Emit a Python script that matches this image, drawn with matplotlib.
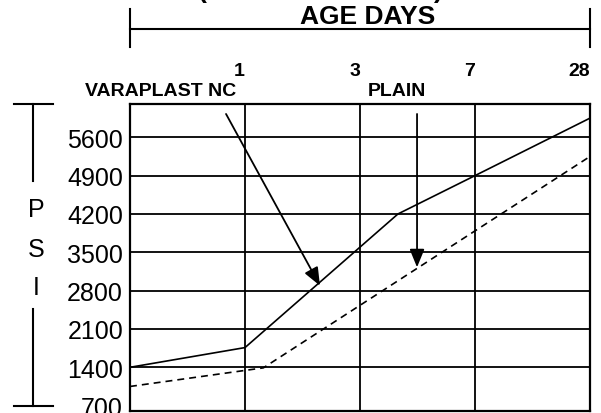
import matplotlib
matplotlib.use("Agg")
import matplotlib.pyplot as plt
from matplotlib import transforms
from matplotlib.lines import Line2D

plt.rcParams['font.family'] = ['Liberation Sans', 'DejaVu Sans']
plt.rcParams['lines.scale_dashes'] = False

#######################################
# DATA
#######################################

# x positions on the category axis (0 = start, 1..4 = age columns)
day_pos = [1, 2, 3, 4]
day_labels = ['1', '3', '7', '28']

psi_ticks = [700, 1400, 2100, 2800, 3500, 4200, 4900, 5600]

# VARAPLAST NC (solid)
vara_x = [0, 1, 2.33, 3, 4]
vara_y = [1400, 1760, 4200, 4900, 5950]

# PLAIN (dashed)
plain_x = [0, 1.16, 4]
plain_y = [1050, 1390, 5250]

# pointer arrows: (text end, tip) in data units
vara_arrow = [(0.835, 6026), (1.652, 2890)]
plain_arrow = [(2.496, 6026), (2.496, 3226)]

W, H = 601, 414


def px(x, y):
    """pixel (from top-left) -> figure fraction"""
    return x / W, 1 - y / H


#######################################
# FIGURE
#######################################

fig = plt.figure(figsize=(W / 100, H / 100), dpi=100)
ax = fig.add_axes([130 / W, 2 / H, 460 / W, 307 / H])

ax.set_xlim(0, 4)
ax.set_ylim(602, 6208)

# grid
ax.vlines(day_pos[:-1], 602, 6208, color='black', lw=1.3, zorder=1)
ax.hlines(psi_ticks[1:], 0, 4, color='black', lw=1.3, zorder=1)

# curves
ax.plot(vara_x, vara_y, color='black', lw=1.2, zorder=3)
ax.plot(plain_x, plain_y, color='black', lw=1.2, dashes=(5, 3.6), zorder=3)

# arrows
for (x0, y0), (x1, y1) in [vara_arrow, plain_arrow]:
    ax.annotate('', xy=(x1, y1), xytext=(x0, y0),
                arrowprops=dict(arrowstyle='-|>,head_length=1.1,head_width=0.45',
                                color='black', lw=1.3, shrinkA=0, shrinkB=0,
                                mutation_scale=10))

for s in ax.spines.values():
    s.set_linewidth(1.6)

ax.set_xticks([])
ax.set_yticks(psi_ticks)
ax.set_yticklabels([str(v) for v in psi_ticks], fontsize=18)
ax.tick_params(axis='y', length=0, pad=5)

# day labels above the columns
tr = transforms.blended_transform_factory(ax.transData, fig.transFigure)
for p, lab in zip(day_pos, day_labels):
    ax.text(p, px(0, 71)[1], lab, transform=tr, ha='right', va='center',
            fontsize=14, fontweight='bold')

# series names
fig.text(*px(161, 92), 'VARAPLAST NC', ha='center', va='center',
         fontsize=14, fontweight='bold')
fig.text(*px(397, 92), 'PLAIN', ha='center', va='center',
         fontsize=14, fontweight='bold')

# AGE DAYS bracket
fig.text(*px(368, 17), 'AGE DAYS', ha='center', va='center',
         fontsize=19, fontweight='bold')
fig.add_artist(Line2D(*zip(px(130, 29.5), px(590, 29.5)), color='black', lw=1.5))
for xx in (130, 590):
    fig.add_artist(Line2D(*zip(px(xx, 10), px(xx, 48)), color='black', lw=1.5))
# bits of the cropped line above
fig.text(*px(202, -2), '(', ha='center', va='baseline', fontsize=19, fontweight='bold')
fig.text(*px(438, -2), ')', ha='center', va='baseline', fontsize=19, fontweight='bold')

# PSI bracket on the left
for letter, yy in zip(['P', 'S', 'I'], [210, 250, 288]):
    fig.text(*px(36, yy), letter, ha='center', va='center', fontsize=18)
fig.add_artist(Line2D(*zip(px(33, 105), px(33, 182)), color='black', lw=1.5))
fig.add_artist(Line2D(*zip(px(33, 310), px(33, 406.7)), color='black', lw=1.5))
fig.add_artist(Line2D(*zip(px(14, 105), px(53, 105)), color='black', lw=1.5))
fig.add_artist(Line2D(*zip(px(14, 406.7), px(53, 406.7)), color='black', lw=1.5))

fig.savefig('out.png', dpi=100)
